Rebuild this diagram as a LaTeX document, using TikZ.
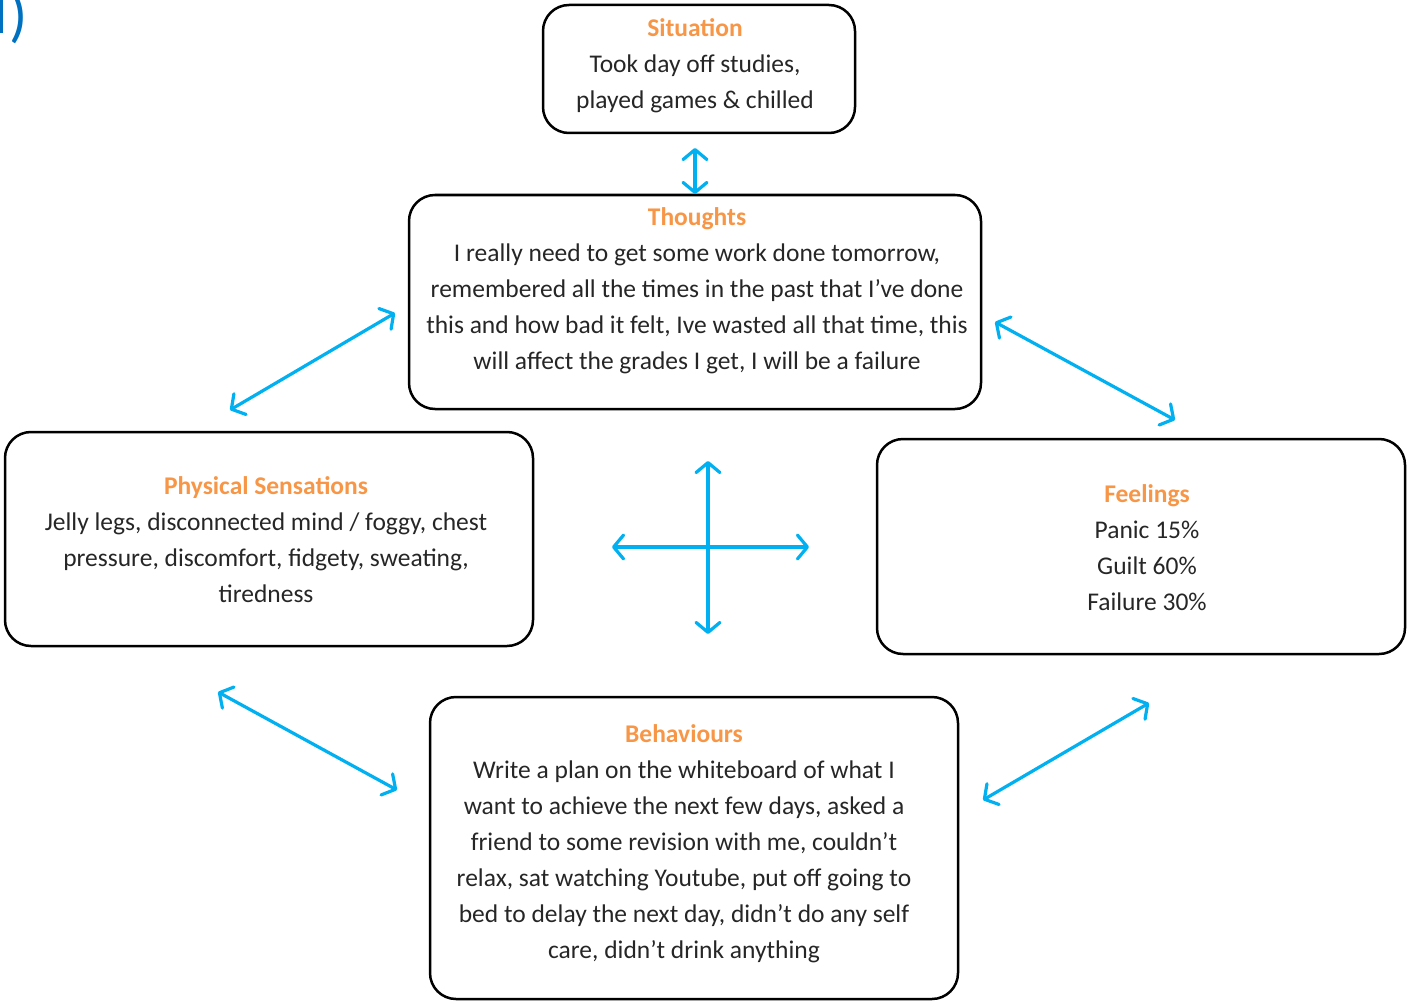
\documentclass[tikz,border=0pt]{standalone}
\usepackage{fontspec}
\setmainfont{Carlito}
\usetikzlibrary{arrows.meta}
\definecolor{ttl}{HTML}{F79646}
\definecolor{arr}{HTML}{00B0F0}
\definecolor{frag}{HTML}{0070C0}
\tikzset{
  box/.style={draw=black, line width=2.5pt, rounded corners=26pt},
  txt/.style={align=center, font=\fontsize{25.5}{36}\selectfont, text=black!85, inner sep=0pt},
  dbl/.style={draw=arr, line width=3.2pt, line cap=round,
    {Straight Barb[length=10pt,width=24pt,round]}-{Straight Barb[length=10pt,width=24pt,round]}},
}
\newcommand{\ttlx}[1]{{\color{ttl}\bfseries #1}}
\begin{document}
\begin{tikzpicture}[x=1pt,y=-1pt]
\useasboundingbox (0,0) rectangle (1407,1003);
% fragment top-left
\fill[frag] (0,0) rectangle (2.5,33);
\node[text=frag, font=\fontsize{60}{60}\selectfont, inner sep=0pt, anchor=base] (frag) at (19,36) {)};
% boxes
\draw[box] (543,5) rectangle (855,133) node[midway] (sitbox) {};
\draw[box] (409,195) rectangle (981,409) node[midway] (thobox) {};
\draw[box] (5,432) rectangle (533,646) node[midway] (phybox) {};
\draw[box] (877,439) rectangle (1405,654) node[midway] (feebox) {};
\draw[box] (430,697) rectangle (958,999) node[midway] (behbox) {};
% texts
\node[txt] (sit) at (695,66) {\ttlx{Situation}\\Took day off studies,\\played games \& chilled};
\node[txt] (tho) at (697,291) {\ttlx{Thoughts}\\I really need to get some work done tomorrow,\\remembered all the times in the past that I’ve done\\this and how bad it felt, Ive wasted all that time, this\\will affect the grades I get, I will be a failure};
\node[txt] (phy) at (266,540) {\ttlx{Physical Sensations}\\Jelly legs, disconnected mind / foggy, chest\\pressure, discomfort, fidgety, sweating,\\tiredness};
\node[txt] (fee) at (1147,548) {\ttlx{Feelings}\\Panic 15\%\\Guilt 60\%\\Failure 30\%};
\node[txt] (beh) at (684,843.5) {\ttlx{Behaviours}\\Write a plan on the whiteboard of what I\\want to achieve the next few days, asked a\\friend to some revision with me, couldn’t\\relax, sat watching Youtube, put off going to\\bed to delay the next day, didn’t do any self\\care, didn’t drink anything};
% arrow end points
\coordinate (a1) at (695,148); \coordinate (a2) at (695,194);
\coordinate (b1) at (230,410); \coordinate (b2) at (395,313);
\coordinate (c1) at (995,322); \coordinate (c2) at (1175,420);
\coordinate (d1) at (218,692); \coordinate (d2) at (397,790);
\coordinate (e1) at (983,800); \coordinate (e2) at (1149,703);
\coordinate (v1) at (708,461); \coordinate (v2) at (708,634);
\coordinate (h1) at (612,547); \coordinate (h2) at (809,547);
\draw[dbl] (a1) -- (a2);
\draw[dbl] (b1) -- (b2);
\draw[dbl] (c1) -- (c2);
\draw[dbl] (d1) -- (d2);
\draw[dbl] (e1) -- (e2);
\draw[dbl] (v1) -- (v2);
\draw[dbl] (h1) -- (h2);
\end{tikzpicture}
\end{document}
